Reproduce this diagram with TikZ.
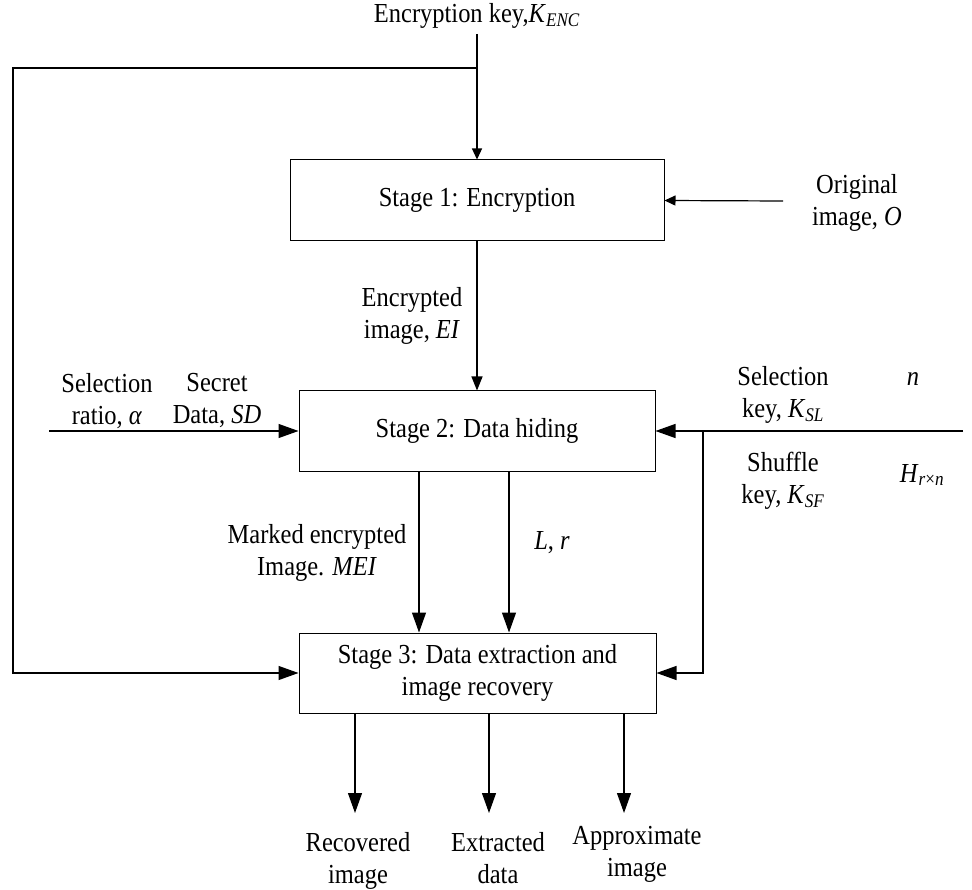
\documentclass[tikz,border=0pt]{standalone}
\usepackage{fontspec}
\setmainfont{Liberation Serif}[FakeStretch=0.89]
\usetikzlibrary{arrows.meta}
\begin{document}
\begin{tikzpicture}[x=1pt,y=-1pt,
  every node/.style={font=\fontsize{27.5}{32}\selectfont, inner sep=0pt},
  stagebox/.style={draw, line width=1pt, align=center},
  lbl/.style={align=center, anchor=north},
  conn/.style={line width=1.2pt},
  bigtip/.style={conn, -{Triangle[length=20pt,width=14pt]}},
  midtip/.style={conn, -{Triangle[length=14pt,width=11pt]}},
  smalltip/.style={conn, -{Triangle[length=11pt,width=10pt]}}]
\useasboundingbox (0,0) rectangle (972,890);

% processing stages
\node[stagebox, minimum width=374pt, minimum height=81pt] (s1) at (477,200.5) {Stage 1: Encryption};
\node[stagebox, minimum width=356pt, minimum height=80pt] (s2) at (477,431) {Stage 2: Data hiding};
\node[stagebox, minimum width=357pt, minimum height=80pt] (s3) at (477.5,673) {Stage 3: Data extraction and\\image recovery};

% encryption key, fed to stage 1 and looped round to stage 3
\node (kenc) at (477,16) {Encryption key,\textit{K}\textsubscript{\textit{ENC}}};
\coordinate (ktop) at (477,34);
\coordinate (kjoin) at (477,68);
\coordinate (ktl) at (13,68);
\coordinate (kbl) at (13,673);
\draw[smalltip] (ktop) -- (s1.north);
\draw[bigtip] (kjoin) -- (ktl) -- (kbl) -- (s3.west);

% original image input
\coordinate (orig) at (783,201);
\draw[smalltip] (orig) -- (s1.east);
\node[lbl] (origlbl) at (857,174) {Original\\image, \textit{O}};

% stage 1 to stage 2
\draw[midtip] (s1.south) -- (s2.north);
\node[lbl] (eilbl) at (412,287) {Encrypted\\image, \textit{EI}};

% left inputs of stage 2
\coordinate (lin) at (49,431);
\draw[bigtip] (lin) -- (s2.west);
\node[lbl] (ratiolbl) at (107,373) {Selection\\ratio, \textit{α}};
\node[lbl] (sdlbl) at (217,373) {Secret\\Data, \textit{SD}};

% right-hand keys, to stage 2 and stage 3
\coordinate (rin) at (963,431);
\coordinate (rjoin) at (703,431);
\draw[bigtip] (rin) -- (s2.east);
\draw[bigtip] (rjoin) |- (s3.east);
\node[lbl] (kslbl) at (783,366) {Selection\\key, \textit{K}\textsubscript{\textit{SL}}};
\node (nlbl) at (913,379) {\textit{n}};
\node[lbl] (ksflbl) at (783,452) {Shuffle\\key, \textit{K}\textsubscript{\textit{SF}}};
\node (hlbl) at (922,475) {\textit{H}\textsubscript{\textit{r}×\textit{n}}};

% stage 2 to stage 3
\coordinate (mA) at (419,0);
\coordinate (mB) at (509,0);
\draw[bigtip] (s2.south -| mA) -- (s3.north -| mA);
\draw[bigtip] (s2.south -| mB) -- (s3.north -| mB);
\node[lbl] (meilbl) at (317,524) {Marked encrypted\\Image. \textit{MEI}};
\node (lrlbl) at (552,543) {\textit{L}, \textit{r}};

% outputs of stage 3
\coordinate (o1) at (355,813);
\coordinate (o2) at (489,813);
\coordinate (o3) at (624,813);
\draw[bigtip] (s3.south -| o1) -- (o1);
\draw[bigtip] (s3.south -| o2) -- (o2);
\draw[bigtip] (s3.south -| o3) -- (o3);
\node[lbl] (recl) at (358,832) {Recovered\\image};
\node[lbl] (extl) at (498,832) {Extracted\\data};
\node[lbl] (appl) at (637,826) {Approximate\\image};
\end{tikzpicture}
\end{document}
